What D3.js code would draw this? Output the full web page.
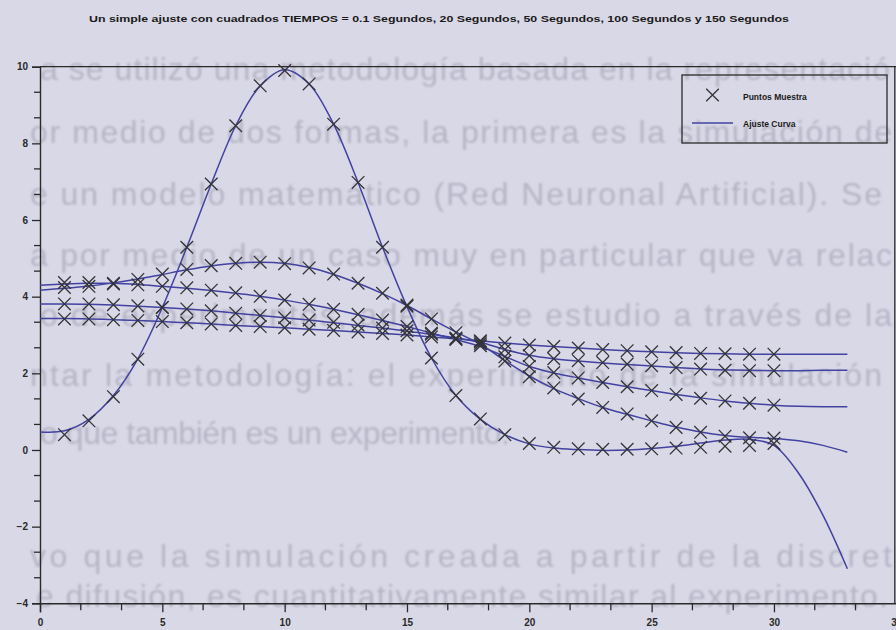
<!DOCTYPE html>
<html>
<head>
<meta charset="utf-8">
<script src="https://cdn.jsdelivr.net/npm/d3@7"></script>
<style>
  html, body { margin: 0; padding: 0; background: #d9d8e6; }
  svg { display: block; }
</style>
</head>
<body>
<div id="chart"></div>
<script>
// ---- data --------------------------------------------------------------
const chartTitle = "Un simple ajuste con cuadrados TIEMPOS = 0.1 Segundos, 20 Segundos, 50 Segundos, 100 Segundos y 150 Segundos";
const legendLabels = ["Puntos Muestra", "Ajuste Curva"];

const xTickLabels = [0, 5, 10, 15, 20, 25, 30, 35];
const yTickLabels = [-4, -2, 0, 2, 4, 6, 8, 10];

// sample positions (points) and positions where the fitted curves are evaluated
const sampleX = [1,2,3,4,5,6,7,8,9,10,11,12,13,14,15,16,17,18,19,20,21,22,23,24,25,26,27,28,29,30];
const fitX = [0,1,2,3,4,5,6,7,8,9,10,11,12,13,14,15,16,17,18,19,20,21,22,23,24,25,26,27,28,29,30,31,32,33];

// measured samples, one array per time
const samples_t01  = [0.40,0.76,1.39,2.37,3.72,5.29,6.94,8.46,9.50,9.90,9.55,8.50,6.98,5.29,3.75,2.40,1.42,0.81,0.40,0.17,0.07,0.03,0.02,0.02,0.03,0.05,0.07,0.10,0.12,0.17];
const samples_t20  = [4.24,4.27,4.33,4.45,4.59,4.71,4.81,4.87,4.90,4.86,4.75,4.59,4.35,4.09,3.78,3.42,3.06,2.77,2.32,1.91,1.62,1.33,1.11,0.94,0.76,0.59,0.46,0.36,0.32,0.31];
const samples_t50  = [4.37,4.37,4.35,4.31,4.27,4.23,4.17,4.10,4.01,3.91,3.80,3.67,3.54,3.39,3.22,3.05,2.88,2.72,2.43,2.18,2.02,1.88,1.76,1.65,1.55,1.45,1.35,1.28,1.22,1.17];
const samples_t100 = [3.81,3.81,3.79,3.76,3.72,3.68,3.63,3.57,3.51,3.45,3.39,3.33,3.26,3.18,3.11,3.02,2.92,2.82,2.62,2.46,2.38,2.33,2.28,2.24,2.20,2.15,2.11,2.08,2.07,2.07];
const samples_t150 = [3.42,3.42,3.40,3.38,3.35,3.32,3.29,3.25,3.22,3.19,3.15,3.12,3.08,3.04,3.00,2.95,2.90,2.85,2.79,2.74,2.70,2.66,2.62,2.59,2.56,2.54,2.52,2.51,2.50,2.50];

// least-squares fitted curves, evaluated at fitX
const fit_t01  = [0.47,0.50,0.80,1.42,2.38,3.72,5.29,6.94,8.46,9.50,9.92,9.55,8.50,6.98,5.29,3.74,2.40,1.42,0.80,0.40,0.16,0.05,0.01,-0.01,0.00,0.04,0.10,0.18,0.26,0.28,0.12,-0.60,-1.70,-3.10];
const fit_t20  = [4.17,4.22,4.28,4.36,4.46,4.58,4.70,4.80,4.87,4.90,4.87,4.76,4.58,4.35,4.08,3.77,3.42,3.08,2.76,2.33,1.93,1.60,1.34,1.11,0.93,0.76,0.60,0.47,0.38,0.33,0.30,0.24,0.12,-0.06];
const fit_t50  = [4.30,4.33,4.35,4.35,4.32,4.27,4.22,4.16,4.09,4.01,3.91,3.80,3.67,3.53,3.38,3.22,3.05,2.88,2.70,2.44,2.18,2.01,1.88,1.76,1.65,1.55,1.45,1.36,1.28,1.22,1.17,1.14,1.13,1.13];
const fit_t100 = [3.81,3.81,3.80,3.78,3.75,3.72,3.68,3.63,3.57,3.51,3.45,3.39,3.32,3.25,3.18,3.10,3.02,2.92,2.81,2.62,2.47,2.38,2.32,2.27,2.23,2.19,2.15,2.11,2.09,2.08,2.07,2.07,2.08,2.08];
const fit_t150 = [3.43,3.43,3.42,3.40,3.38,3.35,3.32,3.29,3.25,3.22,3.19,3.15,3.12,3.08,3.04,3.00,2.95,2.90,2.85,2.79,2.74,2.70,2.66,2.62,2.59,2.56,2.54,2.52,2.51,2.50,2.50,2.50,2.50,2.50];

const sampleSeries = [samples_t01, samples_t20, samples_t50, samples_t100, samples_t150];
const fitSeries = [fit_t01, fit_t20, fit_t50, fit_t100, fit_t150];

// text of the printed page showing through the sheet
const pageLines = [
  "a se utilizó una metodología basada en la representació",
  "or medio de dos formas, la primera es la simulación de",
  "e un modelo matemático (Red Neuronal Artificial). Se",
  "a por medio de un caso muy en particular que va relac",
  "o de experimentos, además se estudio a través de la",
  "ntar la metodología: el experimento de la simulación",
  "o que también es un experimento.",
  "vo que la simulación creada a partir de la discret",
  "e difusión, es cuantitativamente similar al experimento."
];

// ---- layout ------------------------------------------------------------
const W = 896, H = 630;
const svg = d3.select("#chart").append("svg").attr("width", W).attr("height", H);

const defs = svg.append("defs");
defs.append("filter").attr("id", "soft").attr("x", "-5%").attr("y", "-20%").attr("width", "110%").attr("height", "140%")
  .append("feGaussianBlur").attr("stdDeviation", 1.3);

svg.append("rect").attr("width", W).attr("height", H).attr("fill", "#d9d8e6");

// faint page text behind the chart
const pageLayout = [
  {x: 40, y: 80, w: 850},
  {x: 30, y: 143, w: 862},
  {x: 30, y: 205, w: 852},
  {x: 30, y: 266, w: 862},
  {x: 40, y: 326, w: 852},
  {x: 30, y: 386, w: 852},
  {x: 40, y: 444, w: 470},
  {x: 30, y: 567, w: 862},
  {x: 36, y: 607, w: 852}
];
svg.append("g").attr("filter", "url(#soft)")
  .selectAll("text").data(pageLines).join("text")
  .attr("x", (d, i) => pageLayout[i].x)
  .attr("y", (d, i) => pageLayout[i].y)
  .attr("textLength", (d, i) => pageLayout[i].w)
  .attr("lengthAdjust", "spacing")
  .attr("font-family", "Liberation Sans, Arial, sans-serif")
  .attr("font-size", 32)
  .attr("fill", "#b6b5c6")
  .text(d => d);

const x = d3.scaleLinear().domain([0, 35]).range([40, 896.3]);
const y = d3.scaleLinear().domain([-4, 10]).range([603.3, 66.7]);

const axisColor = "#2a2a2a";

// frame: top and right border
svg.append("line").attr("x1", x(0)).attr("x2", x(35)).attr("y1", y(10)).attr("y2", y(10))
  .attr("stroke", axisColor).attr("stroke-width", 1.3);
svg.append("line").attr("x1", x(35) - 1.5).attr("x2", x(35) - 1.5).attr("y1", y(10)).attr("y2", y(-4))
  .attr("stroke", axisColor).attr("stroke-width", 1.3);

// x axis
const xAxis = d3.axisBottom(x).tickValues(xTickLabels).tickSize(9).tickFormat(d3.format("d"));
const gx = svg.append("g").attr("transform", `translate(0,${y(-4)})`).call(xAxis);
const xMinor = d3.range(0, 35.001, 5 / 3).filter(v => Math.abs(v / 5 - Math.round(v / 5)) > 1e-6);
gx.selectAll(".minor").data(xMinor).join("line").attr("class", "minor")
  .attr("x1", d => x(d)).attr("x2", d => x(d)).attr("y1", 0).attr("y2", 7)
  .attr("stroke", axisColor).attr("stroke-width", 1.3);

// y axis
const yAxis = d3.axisLeft(y).tickValues(yTickLabels).tickSize(8).tickFormat(d3.format("d"));
const gy = svg.append("g").attr("transform", `translate(${x(0)},0)`).call(yAxis);
const yMinor = d3.range(-4, 10.001, 2 / 3).filter(v => Math.abs(v / 2 - Math.round(v / 2)) > 1e-6);
gy.selectAll(".minor").data(yMinor).join("line").attr("class", "minor")
  .attr("x1", -6).attr("x2", 0).attr("y1", d => y(d)).attr("y2", d => y(d))
  .attr("stroke", axisColor).attr("stroke-width", 1.3);

[gx, gy].forEach(g => {
  g.select(".domain").attr("stroke", axisColor).attr("stroke-width", 1.4);
  g.selectAll(".tick line").attr("stroke", axisColor).attr("stroke-width", 1.3);
  g.selectAll(".tick text")
    .attr("font-family", "Liberation Sans, Arial, sans-serif")
    .attr("font-size", 10).attr("font-weight", "bold").attr("fill", "#2a2a2a");
});
gx.selectAll(".tick text").attr("dy", "1.05em");
gy.selectAll(".tick text").attr("x", -12);

// fitted curves
const line = d3.line().x((d, i) => x(fitX[i])).y(d => y(d)).curve(d3.curveCatmullRom.alpha(0.5));
svg.append("g").selectAll("path").data(fitSeries).join("path")
  .attr("d", line).attr("fill", "none")
  .attr("stroke", "#4242a0").attr("stroke-width", 1.5);

// sample points drawn as crosses
const crossSize = 6.3;
const crossPath = (cx, cy) =>
  `M${cx - crossSize},${cy - crossSize}L${cx + crossSize},${cy + crossSize}M${cx - crossSize},${cy + crossSize}L${cx + crossSize},${cy - crossSize}`;
const points = [];
sampleSeries.forEach(s => s.forEach((v, i) => points.push([sampleX[i], v])));
svg.append("g").selectAll("path").data(points).join("path")
  .attr("d", d => crossPath(x(d[0]), y(d[1])))
  .attr("fill", "none").attr("stroke", "#333338").attr("stroke-width", 1.3);

// title
svg.append("text").attr("x", 439).attr("y", 22).attr("text-anchor", "middle")
  .attr("font-family", "Liberation Sans, Arial, sans-serif")
  .attr("font-size", 9.5).attr("font-weight", "bold").attr("fill", "#1a1a1a")
  .attr("textLength", 700).attr("lengthAdjust", "spacingAndGlyphs")
  .text(chartTitle);

// legend (unfilled box)
const lg = svg.append("g");
lg.append("rect").attr("x", 682).attr("y", 75).attr("width", 205).attr("height", 68)
  .attr("fill", "none").attr("stroke", axisColor).attr("stroke-width", 1.3);
lg.append("path").attr("d", crossPath(712.5, 95))
  .attr("fill", "none").attr("stroke", "#333338").attr("stroke-width", 1.3);
lg.append("line").attr("x1", 692).attr("x2", 733).attr("y1", 123).attr("y2", 123)
  .attr("stroke", "#4242a0").attr("stroke-width", 1.5);
lg.selectAll("text").data(legendLabels).join("text")
  .attr("x", 743).attr("y", (d, i) => 100 + i * 27)
  .attr("font-family", "Liberation Sans, Arial, sans-serif")
  .attr("font-size", 8.5).attr("font-weight", "bold").attr("fill", "#1a1a1a")
  .text(d => d);
</script>
</body>
</html>
